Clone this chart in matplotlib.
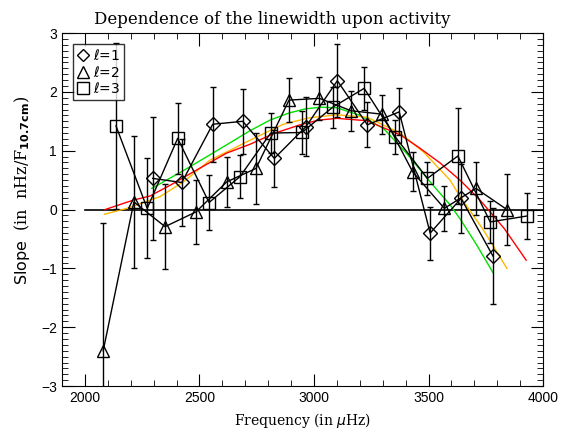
import matplotlib
matplotlib.use("Agg")
import matplotlib.pyplot as plt
from matplotlib.ticker import MultipleLocator
from matplotlib.lines import Line2D

# l=1 (diamonds)
f1 = [2296, 2423, 2558, 2689, 2827, 2965, 3102, 3233, 3372, 3507, 3642, 3781]
s1 = [0.53, 0.46, 1.45, 1.50, 0.87, 1.41, 2.19, 1.44, 1.66, -0.40, 0.19, -0.79]
e1 = [1.05, 0.74, 0.64, 0.55, 0.49, 0.50, 0.62, 0.38, 0.40, 0.45, 0.58, 0.82]

# l=2 (triangles)
f2 = [2080, 2214, 2350, 2485, 2619, 2747, 2891, 3024, 3161, 3299, 3431, 3569, 3707, 3842]
s2 = [-2.40, 0.13, -0.29, -0.04, 0.47, 0.70, 1.86, 1.89, 1.68, 1.62, 0.64, 0.02, 0.36, 0.00]
e2 = [2.17, 1.12, 0.72, 0.55, 0.42, 0.60, 0.37, 0.37, 0.34, 0.33, 0.33, 0.38, 0.45, 0.60]

# l=3 (squares)
f3 = [2136, 2272, 2405, 2542, 2677, 2811, 2947, 3082, 3219, 3354, 3495, 3628, 3769, 3929]
s3 = [1.42, 0.02, 1.21, 0.12, 0.56, 1.30, 1.31, 1.74, 2.06, 1.24, 0.53, 0.91, -0.21, -0.11]
e3 = [1.41, 0.85, 0.60, 0.46, 0.37, 0.34, 0.37, 0.35, 0.37, 0.29, 0.28, 0.82, 0.35, 0.39]

# fitted curves
fg = [2292, 2420, 2546, 2640, 2721, 2808, 2890, 2961, 3030, 3100, 3201, 3303, 3405, 3507, 3594, 3638, 3710, 3781]
sg = [0.36, 0.64, 0.93, 1.15, 1.34, 1.52, 1.64, 1.71, 1.74, 1.73, 1.60, 1.38, 0.95, 0.47, 0.08, -0.16, -0.60, -1.07]

fo = [2085, 2183, 2328, 2430, 2546, 2640, 2721, 2866, 2980, 3100, 3231, 3376, 3480, 3594, 3638, 3740, 3842]
so = [-0.08, 0.02, 0.22, 0.47, 0.84, 1.02, 1.18, 1.45, 1.56, 1.61, 1.57, 1.30, 0.97, 0.50, 0.22, -0.35, -1.00]

fr = [2088, 2211, 2284, 2380, 2473, 2619, 2721, 2830, 2939, 3020, 3100, 3231, 3376, 3460, 3551, 3640, 3725, 3830, 3926]
sr = [0.00, 0.16, 0.23, 0.43, 0.64, 0.96, 1.11, 1.30, 1.44, 1.52, 1.55, 1.51, 1.27, 1.05, 0.79, 0.49, 0.16, -0.32, -0.86]

fig = plt.figure(figsize=(5.79, 4.29), dpi=100)
ax = fig.add_axes([0.107, 0.100, 0.831, 0.823])

ax.plot([2000, 4000], [0, 0], color='black', lw=1.2)
ax.plot(fg, sg, color='#00e000', lw=1)
ax.plot(fo, so, color='#ffb800', lw=1)
ax.plot(fr, sr, color='#ff0000', lw=1)

kw = dict(color='black', lw=1, mfc='none', mec='black', mew=1,
          ecolor='black', elinewidth=1, capsize=2.5, capthick=1)
ax.errorbar(f1, s1, yerr=e1, marker='D', ms=7.5, **kw)
ax.errorbar(f2, s2, yerr=e2, marker='^', ms=9, **kw)
ax.errorbar(f3, s3, yerr=e3, marker='s', ms=9, **kw)

ax.set_xlim(1900, 4000)
ax.set_ylim(-3, 3)
ax.xaxis.set_major_locator(MultipleLocator(500))
ax.xaxis.set_minor_locator(MultipleLocator(100))
ax.yaxis.set_major_locator(MultipleLocator(1))
ax.yaxis.set_minor_locator(MultipleLocator(0.1))
ax.tick_params(which='both', direction='in', top=True, right=True)
ax.tick_params(which='major', length=9, labelsize=10)
ax.tick_params(which='minor', length=4)
for lab in ax.get_xticklabels() + ax.get_yticklabels():
    lab.set_family('Liberation Sans')

fig.text(0.471, 0.955, 'Dependence of the linewidth upon activity', family='DejaVu Serif',
         fontsize=12, ha='center', va='center')
ax.set_xlabel(r'Frequency (in $\mu$Hz)', family='DejaVu Serif', fontsize=10)
fig.text(0.038, 0.557, r'$\mathsf{Slope}$  (in  nHz/F$_{\mathbf{10.7cm}}$)', family='DejaVu Serif',
         fontsize=11.5, rotation=90, ha='center', va='center')

handles = [Line2D([], [], ls='none', marker='D', mfc='none', mec='black', ms=6),
           Line2D([], [], ls='none', marker='^', mfc='none', mec='black', ms=8),
           Line2D([], [], ls='none', marker='s', mfc='none', mec='black', ms=8)]
leg = ax.legend(handles, [r'$\ell$=1', r'$\ell$=2', r'$\ell$=3'], loc='upper left',
                fancybox=False, edgecolor='black', handlelength=0.8, handletextpad=0.3,
                borderpad=0.3, labelspacing=0.1, fontsize=10, borderaxespad=0.8)
leg.get_frame().set_linewidth(1)

fig.savefig('out.png', dpi=100)
